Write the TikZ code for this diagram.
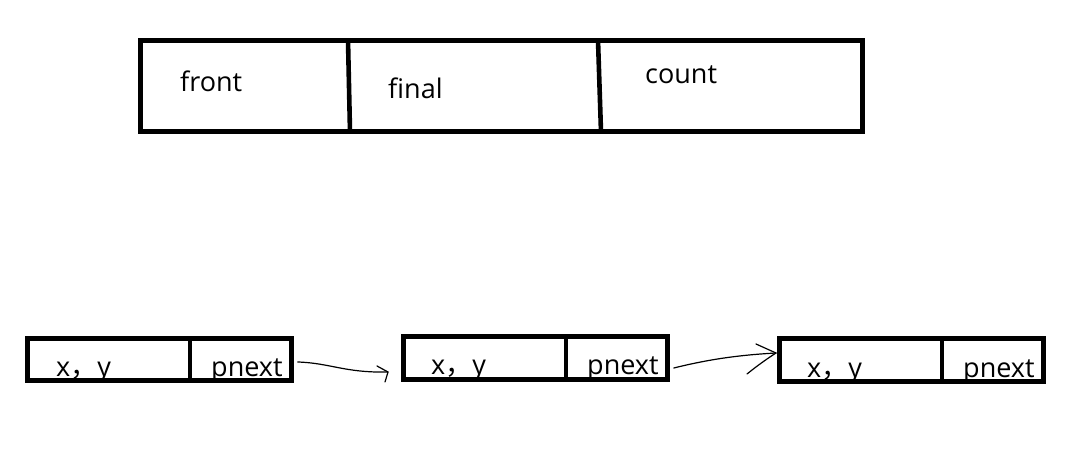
\documentclass[tikz,border=0pt]{standalone}
\usepackage{fontspec}
\setmainfont{Open Sans}
\newfontfamily\cjk{Noto Sans CJK SC}
\usetikzlibrary{calc}
\begin{document}
\begin{tikzpicture}[x=1pt,y=-1pt,
  cell/.style={draw=black, line width=4.6pt, rectangle, inner sep=0pt},
  lbl/.style={anchor=base west, inner sep=0pt, font=\fontsize{27}{27}\selectfont},
  sep/.style={line width=4.6pt},
  pen/.style={line width=1.2pt, line cap=round, line join=round}]
\path[use as bounding box, fill=white] (0,0) rectangle (1092,449);
% top struct
\node[cell, minimum width=722pt, minimum height=91pt] (top) at (501.5,86) {};
\draw[sep] (348,40) -- (350,132);
\draw[sep] (598,40) -- (601,132);
\node[lbl] (front) at (180,92) {front};
\node[lbl] (final) at (388,99) {final};
\node[lbl] (count) at (645,84) {count};
% list nodes
\node[cell, minimum width=264pt, minimum height=42pt] (b1) at (159.5,359.5) {};
\node[cell, minimum width=264pt, minimum height=43pt] (b2) at (535.5,358) {};
\node[cell, minimum width=264pt, minimum height=43pt] (b3) at (911.5,360) {};
\draw[sep] (190,338) -- (190,381);
\draw[sep] (566,336) -- (566,380);
\draw[sep] (942,338) -- (942,382);
\node[lbl] (xy1) at (56,376) {x{\cjk ，}y};
\node[lbl] (pn1) at (211,376) {pnext};
\node[lbl] (xy2) at (431,374) {x{\cjk ，}y};
\node[lbl] (pn2) at (587,374) {pnext};
\node[lbl] (xy3) at (807,377) {x{\cjk ，}y};
\node[lbl] (pn3) at (963,377) {pnext};
% arrows
\coordinate (t1) at (388,372);
\coordinate (t2) at (776,353);
\draw[pen] ($(b1.east)+(4,2.5)$) .. controls (330,363) and (345,373) .. (t1);
\draw[pen] (377,366) -- (t1) -- (385,382);
\draw[pen] ($(b2.east)+(4,10)$) .. controls (710,359) and (740,355) .. (t2);
\draw[pen] (756,344) -- (t2);
\draw[pen] (t2) .. controls (762,362) and (752,370) .. (747,374);
\end{tikzpicture}
\end{document}
